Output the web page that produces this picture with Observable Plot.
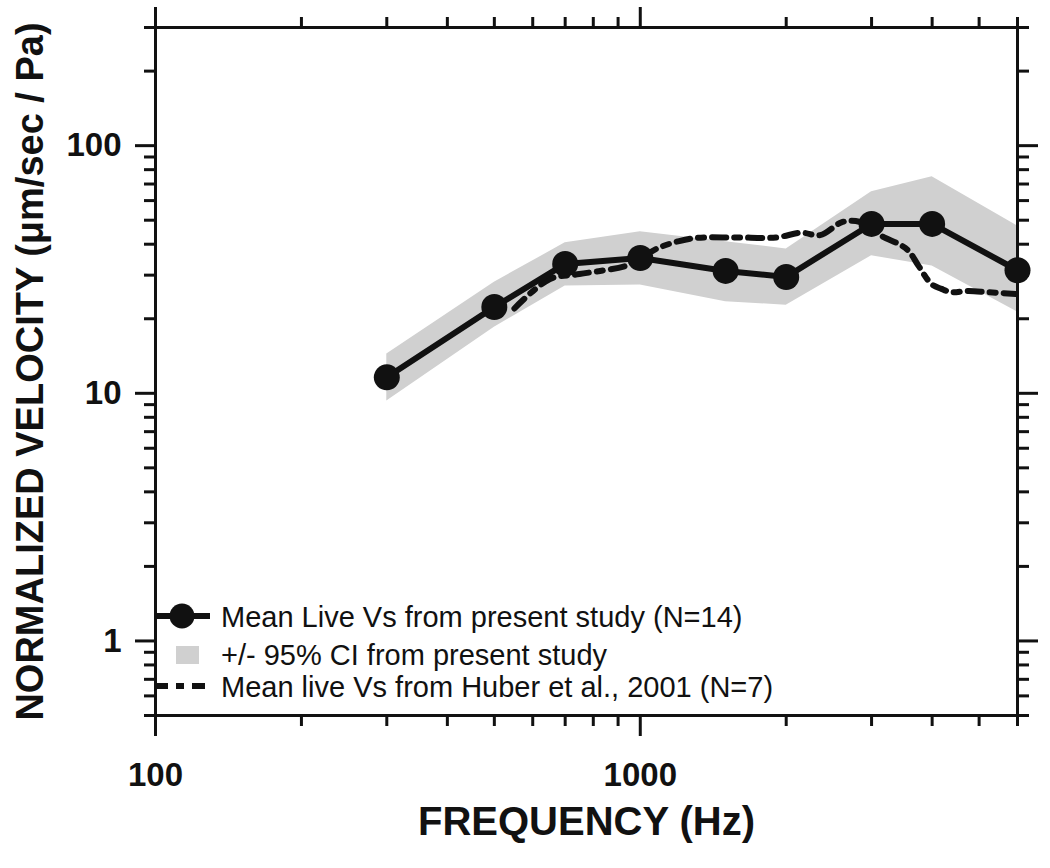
<!DOCTYPE html>
<html>
<head>
<meta charset="utf-8">
<script src="https://cdn.jsdelivr.net/npm/d3@7"></script>
<script src="https://cdn.jsdelivr.net/npm/@observablehq/plot@0.6"></script>
<style>
  html, body { margin: 0; padding: 0; background: #fff; }
  #wrap { position: relative; width: 1050px; height: 868px; }
  #legend { position: absolute; left: 0; top: 0; pointer-events: none; }
</style>
</head>
<body>
<div id="wrap"></div>
<script>
// ---- data ----
const freqs   = [300, 500, 700, 1000, 1500, 2000, 3000, 4000, 6000];
const meanVs  = [11.6, 22.3, 33.3, 35.2, 31.2, 29.5, 48.3, 48.3, 31.4];
const ciUpper = [14.4, 28.1, 40.5, 44.9, 40.9, 38.3, 65.1, 74.9, 47.4];
const ciLower = [9.3, 18.5, 27.1, 27.4, 23.4, 22.7, 35.9, 32.7, 21.3];

const huberFreq = [550, 650, 749, 935, 1000, 1079, 1203, 1304, 1576, 1905, 2150, 2350, 2600, 2783, 3000, 3148, 3412, 3577, 3750, 3989, 4182, 4385, 4753, 5225, 5950];
const huberVs   = [22.0, 28.9, 30.3, 32.7, 34.9, 38.3, 41.2, 42.4, 42.6, 42.6, 44.5, 43.5, 49.0, 49.6, 47.0, 43.2, 40.1, 37.6, 32.7, 27.6, 26.4, 25.6, 25.9, 25.6, 25.2];

const xMajor = [100, 1000];
const xMinor = [200, 300, 400, 500, 600, 700, 800, 900, 2000, 3000, 4000, 5000, 6000];
const yMajor = [1, 10, 100];
const yMinor = [0.5, 0.6, 0.7, 0.8, 0.9, 2, 3, 4, 5, 6, 7, 8, 9, 20, 30, 40, 50, 60, 70, 80, 90, 200, 300];

const xTitle = "FREQUENCY (Hz)";
const yTitle = "NORMALIZED VELOCITY (\u03BCm/sec / Pa)";
const legendLabels = [
  "Mean Live Vs from present study (N=14)",
  "+/- 95% CI from present study",
  "Mean live Vs from Huber et al., 2001 (N=7)"
];

// ---- tables ----
const mean = freqs.map((f, i) => ({f, v: meanVs[i], lo: ciLower[i], hi: ciUpper[i]}));
const huber = huberFreq.map((f, i) => ({f, v: huberVs[i]}));

const INK = "#111";
const BAND = "#d0d0d0";
const font = "'Liberation Sans', Arial, Helvetica, sans-serif";
const axisCommon = {stroke: INK, strokeWidth: 3, label: null};
const blank = () => "";

const chart = Plot.plot({
  width: 1050,
  height: 868,
  marginLeft: 155,
  marginRight: 33,
  marginTop: 27,
  marginBottom: 153,
  style: {fontFamily: font, background: "white", color: INK},
  x: {type: "log", domain: [100, 6000]},
  y: {type: "log", domain: [0.5, 300]},
  marks: [
    Plot.areaY(mean, {x: "f", y1: "lo", y2: "hi", fill: BAND}),
    Plot.line(huber, {x: "f", y: "v", stroke: INK, strokeWidth: 6, strokeDasharray: "14,8,6,8", curve: "catmull-rom"}),
    Plot.line(mean, {x: "f", y: "v", stroke: INK, strokeWidth: 6}),

    Plot.axisX(xMajor, {...axisCommon, anchor: "bottom", tickSize: 21, tickPadding: 26, tickFormat: d => String(d), fontSize: 33, fontWeight: "bold"}),
    Plot.axisX(xMinor, {...axisCommon, anchor: "bottom", tickSize: 11, tickFormat: blank}),
    Plot.axisX(xMajor, {...axisCommon, anchor: "top", tickSize: 21, tickFormat: blank}),
    Plot.axisX(xMinor, {...axisCommon, anchor: "top", tickSize: 11, tickFormat: blank}),
    Plot.axisY(yMajor, {...axisCommon, anchor: "left", tickSize: 20, tickPadding: 14, tickFormat: d => String(d), fontSize: 33, fontWeight: "bold"}),
    Plot.axisY(yMinor, {...axisCommon, anchor: "left", tickSize: 11, tickFormat: blank}),
    Plot.axisY(yMajor, {...axisCommon, anchor: "right", tickSize: 20, tickFormat: blank}),
    Plot.axisY(yMinor, {...axisCommon, anchor: "right", tickSize: 11, tickFormat: blank}),
    Plot.frame({stroke: INK, strokeWidth: 3}),

    Plot.dot(mean, {x: "f", y: "v", r: 13, fill: INK, stroke: "none"}),

    Plot.text([xTitle], {text: d => d, frameAnchor: "bottom", dy: 119, fontSize: 40, fontWeight: "bold", fill: INK}),
    Plot.text([yTitle], {text: d => d, frameAnchor: "left", textAnchor: "middle", dx: -125, rotate: -90, fontSize: 38, fontWeight: "bold", fill: INK})
  ]
});

const wrap = document.getElementById("wrap");
wrap.appendChild(chart);

// ---- legend overlay ----
const lg = d3.select(wrap).append("svg")
  .attr("id", "legend")
  .attr("width", 1050).attr("height", 868);

lg.append("line").attr("x1", 155).attr("x2", 210).attr("y1", 616).attr("y2", 616)
  .attr("stroke", INK).attr("stroke-width", 6);
lg.append("circle").attr("cx", 182).attr("cy", 616).attr("r", 12.5).attr("fill", INK);
lg.append("rect").attr("x", 176).attr("y", 646).attr("width", 23).attr("height", 18).attr("fill", BAND);
lg.append("line").attr("x1", 155).attr("x2", 212).attr("y1", 686).attr("y2", 686)
  .attr("stroke", INK).attr("stroke-width", 6).attr("stroke-dasharray", "13,8,8,8");

const baselines = [627, 665, 697];
legendLabels.forEach((t, i) => {
  lg.append("text").attr("x", 221).attr("y", baselines[i])
    .attr("font-family", font).attr("font-size", 29).attr("fill", INK)
    .text(t);
});
</script>
</body>
</html>
